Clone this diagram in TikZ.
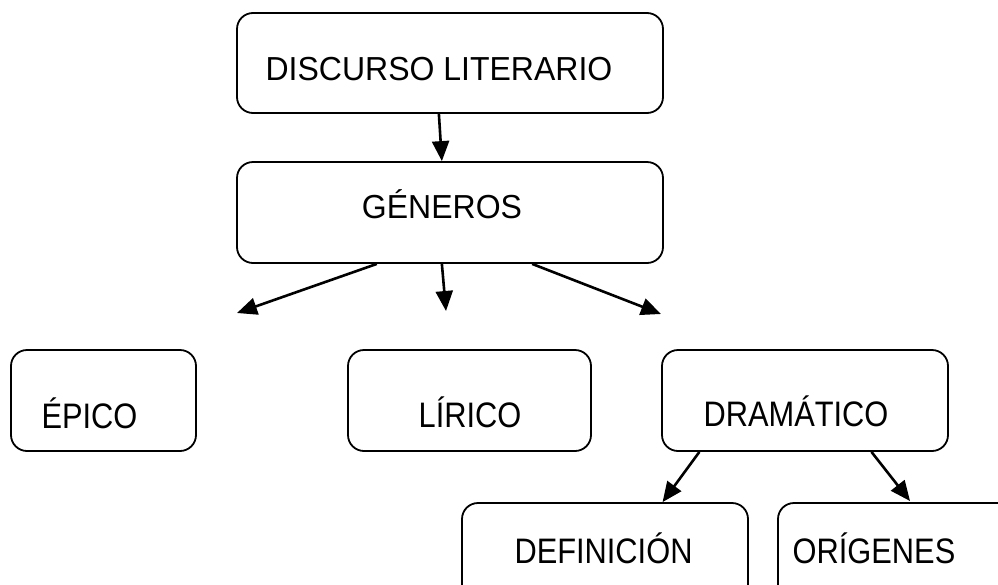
\documentclass[tikz,border=0pt]{standalone}
\usepackage{graphicx}
\usepackage{fontspec}
\setmainfont{Liberation Sans}
\usetikzlibrary{calc,arrows.meta}
\newcommand{\tallb}[1]{\scalebox{1}[1.15]{#1}}
\begin{document}
\begin{tikzpicture}[x=1pt,y=-1pt,
  box/.style={draw=black, line width=1.8pt, rounded corners=16pt, inner sep=0pt},
  txt/.style={anchor=base, inner sep=0pt, font=\fontsize{32}{38}\selectfont},
  txtb/.style={anchor=base, inner sep=0pt, font=\fontsize{30.8}{37}\selectfont},
  arr/.style={line width=2.6pt, -{Triangle[length=20pt,width=17pt]}}]
\useasboundingbox (0,0) rectangle (998,584);
\clip (0,0) rectangle (998,584);
\fill[white] (0,0) rectangle (998,584);
% boxes
\node[box, minimum width=426pt, minimum height=100pt] (d) at (450,63) {};
\node[box, minimum width=426pt, minimum height=101pt] (g) at (450,212.5) {};
\node[box, minimum width=185pt, minimum height=101pt] (e) at (103.5,400.5) {};
\node[box, minimum width=243pt, minimum height=101pt] (l) at (469.5,400.5) {};
\node[box, minimum width=286pt, minimum height=101pt] (m) at (805,400.5) {};
\node[box, minimum width=286pt, minimum height=110pt] (f) at (605,558) {};
\node[box, minimum width=240pt, minimum height=110pt] (o) at (898,558) {};
% texts
\node[txt] (dt) at (439,80) {\scalebox{1}[1.04]{DISCURSO LITERARIO}};
\node[txt] (gt) at (442,218) {\scalebox{1}[1.04]{GÉNEROS}};
\node[txtb] (et) at (89.5,428) {\tallb{ÉPICO}};
\node[txtb] (lt) at (470,427) {\tallb{LÍRICO}};
\node[txtb] (mt) at (796,426) {\tallb{DRAMÁTICO}};
\node[txtb] (ft) at (603.5,563) {\tallb{DEFINICIÓN}};
\node[txtb] (ot) at (874,563) {\tallb{ORÍGENES}};
% free arrow ends
\coordinate (c1) at (237,313);
\coordinate (c2) at (446,311);
\coordinate (c3) at (661,314);
\coordinate (c4) at (910,501);
% connectors
\draw[arr] ($(d.south west)!0.474!(d.south east)$) -- ($(g.north west)!0.481!(g.north east)$);
\draw[arr] ($(g.south west)!0.329!(g.south east)$) -- (c1);
\draw[arr] ($(g.south west)!0.481!(g.south east)$) -- (c2);
\draw[arr] ($(g.south west)!0.692!(g.south east)$) -- (c3);
\draw[arr] ($(m.south west)!0.133!(m.south east)$) -- ($(f.north west)!0.70!(f.north east)$);
\draw[arr] ($(m.south west)!0.731!(m.south east)$) -- (c4);
\end{tikzpicture}
\end{document}
